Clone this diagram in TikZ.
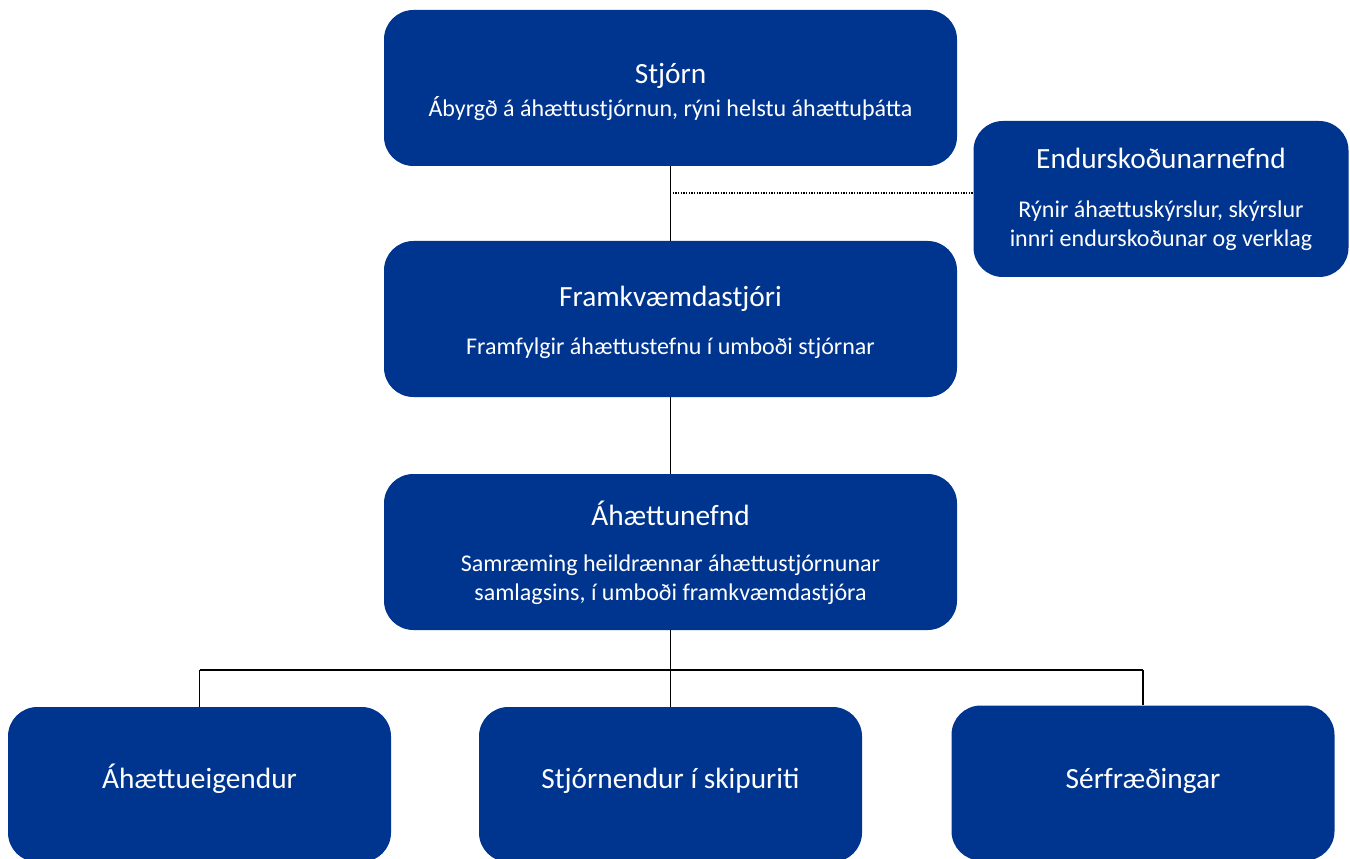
\documentclass[tikz,border=0pt]{standalone}
\usepackage{fontspec}
\setmainfont{Carlito}
\definecolor{boxblue}{RGB}{0,53,143}
\newcommand\ttlfont{\fontsize{22}{26}\selectfont}
\newcommand\subfont{\fontsize{18}{21.75}\selectfont}
\begin{document}
\begin{tikzpicture}[x=0.75pt,y=0.75pt,yscale=-1,xscale=1,
  orgbox/.style={fill=boxblue, rounded corners=22pt, inner sep=0pt},
  widebox/.style={orgbox, minimum width=429.75pt, minimum height=117pt},
  sidebox/.style={orgbox, minimum width=281.25pt, minimum height=117pt},
  lowbox/.style={orgbox, minimum width=287.25pt, minimum height=116.25pt},
  ttl/.style={text=white, inner sep=0pt, anchor=base, font=\ttlfont},
  sub/.style={text=white, inner sep=0pt, anchor=base, align=center, font=\subfont},
  link/.style={line width=1.2pt},
  bus/.style={line width=2pt}]
\useasboundingbox (0,0) rectangle (1350,859);
\clip (0,0) rectangle (1350,859);

% Boxes
\node [widebox] (stjorn) at (670.5,88) {};
\node [sidebox] (endur) at (1161,199) {};
\node [widebox] (framk) at (670.5,319) {};
\node [widebox] (nefnd) at (670.5,552) {};
\node [lowbox] (eig) at (199.5,784.5) {};
\node [lowbox] (stjn) at (670.5,784.5) {};
\node [lowbox] (serf) at (1143,783) {};

% Text Nodes (base of a two-line text is its last line)
\node [ttl] (stjorn-t) at (670.5,84) {Stjórn};
\node [sub] (stjorn-s) at (670.5,117) {Ábyrgð á áhættustjórnun, rýni helstu áhættuþátta};
\node [ttl] (endur-t) at (1161,169) {Endurskoðunarnefnd};
\node [sub] (endur-s) at (1161,247) {Rýnir áhættuskýrslur, skýrslur\\innri endurskoðunar og verklag};
\node [ttl] (framk-t) at (670.5,307) {Framkvæmdastjóri};
\node [sub] (framk-s) at (670.5,354) {Framfylgir áhættustefnu í umboði stjórnar};
\node [ttl] (nefnd-t) at (670.5,525) {Áhættunefnd};
\node [sub] (nefnd-s) at (670.5,600) {Samræming heildrænnar áhættustjórnunar\\samlagsins, í umboði framkvæmdastjóra};
\node [ttl] (eig-t) at (199.5,788) {Áhættueigendur};
\node [ttl] (stjn-t) at (670.5,788) {Stjórnendur í skipuriti};
\node [ttl] (serf-t) at (1143,788) {Sérfræðingar};

% Connectors
\draw [link] (stjorn.south) -- (framk.north);
\coordinate (audit) at (670,193);
\draw [line width=1pt, dash pattern={on 1pt off 1pt}] (audit) -- (audit -| endur.west);
\draw [link] (framk.south) -- (nefnd.north);
\draw [link] (nefnd.south) -- (stjn.north);
\coordinate (split) at (670,670);
\draw [bus] (split -| eig.north) -- (split -| serf.north);
\draw [link] (split -| eig.north) -- (eig.north);
\draw [link] (split -| serf.north) -- (serf.north);
\end{tikzpicture}
\end{document}
